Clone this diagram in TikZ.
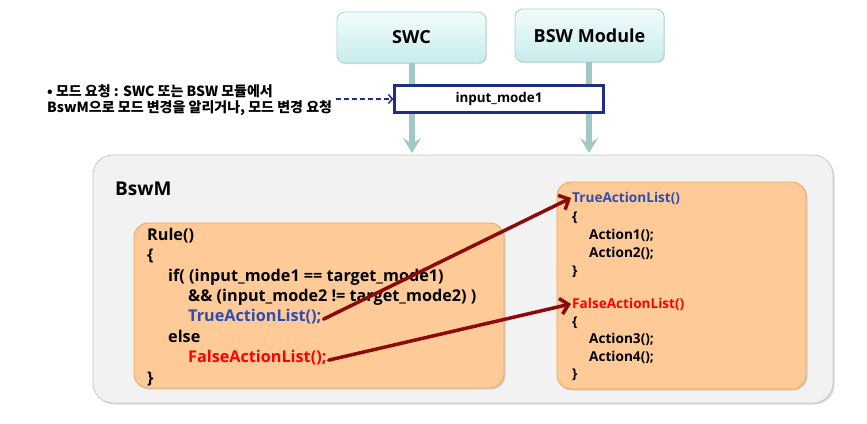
\documentclass[tikz,border=0pt]{standalone}
\usepackage{fontspec}
\setmainfont{Open Sans}
\newfontfamily\krfont{Noto Sans CJK KR}
\usetikzlibrary{arrows.meta,shadows}
\definecolor{outerfill}{HTML}{F2F2F2}
\definecolor{outerdraw}{HTML}{C8C8C8}
\definecolor{peach}{HTML}{FECB98}
\definecolor{peachdraw}{HTML}{F7A24E}
\definecolor{cyantop}{HTML}{F2FCFC}
\definecolor{cyanbot}{HTML}{C8ECEC}
\definecolor{cyandraw}{HTML}{A9D2D2}
\definecolor{flowarrow}{HTML}{A3C7C7}
\definecolor{navy}{HTML}{1F2F85}
\definecolor{codeblue}{HTML}{2E4BAF}
\definecolor{codered}{HTML}{FF0000}
\definecolor{darkarrow}{HTML}{8C0A0A}
\tikzset{
  compbox/.style={draw=cyandraw, line width=0.8pt, rounded corners=8pt, top color=cyantop, bottom color=cyanbot,
    drop shadow={shadow xshift=1.2pt, shadow yshift=-1.2pt, opacity=0.25},
    font=\bfseries\fontsize{18}{21}\selectfont, inner sep=0pt},
  panel/.style={draw=outerdraw, line width=0.8pt, fill=outerfill, rounded corners=20pt,
    drop shadow={shadow xshift=1.5pt, shadow yshift=-1.5pt, opacity=0.3}},
  codebox/.style={draw=peachdraw, line width=0.8pt, fill=peach, rounded corners=14pt,
    drop shadow={shadow xshift=1.5pt, shadow yshift=-1.5pt, opacity=0.3}},
  bigcode/.style={anchor=base west, inner sep=0pt, font=\bfseries\fontsize{16.2}{19}\selectfont},
  smallcode/.style={anchor=base west, inner sep=0pt, font=\bfseries\fontsize{13.6}{16}\selectfont},
  flow/.style={draw=flowarrow, line width=6pt, -{Stealth[length=15pt,width=18pt,inset=6pt]}},
  jump/.style={draw=darkarrow, line width=3.5pt, line cap=round, -{Straight Barb[length=8pt,width=16pt]}},
  note/.style={anchor=base west, inner sep=0pt, font=\krfont\bfseries\fontsize{14}{16}\selectfont},
}
\begin{document}
\begin{tikzpicture}[x=1pt,y=-1pt]
\useasboundingbox (0,0) rectangle (867,423);
\fill[white] (0,0) rectangle (867,423);
% top components
\node[compbox, minimum width=149pt, minimum height=51pt] (swc) at (411.5,37.5) {SWC};
\node[compbox, minimum width=149pt, minimum height=53pt] (bsw) at (589.5,35.5) {BSW Module};
\coordinate (swcend) at (412,153);
\coordinate (bswend) at (589,153);
\draw[flow] (swc.south -| swcend) -- (swcend);
\draw[flow] (bsw.south -| bswend) -- (bswend);
% input mode box
\node[draw=navy, line width=2.2pt, fill=white, minimum width=209pt, minimum height=27pt, inner sep=0pt,
      font=\bfseries\fontsize{13.4}{15}\selectfont] (inbox) at (499,99) {input\_mode1};
% note
\node[note] (note1) at (47,96) {• 모드 요청 : SWC 또는 BSW 모듈에서};
\node[note] (note2) at (47,112) {BswM으로 모드 변경을 알리거나, 모드 변경 요청};
\coordinate (dstart) at (336,99);
\draw[navy, line width=1.5pt, dash pattern=on 5pt off 3pt, -{Straight Barb[length=4pt,width=9pt]}] (dstart) -- (inbox.west);
% BswM panel
\draw[panel] (93,155) rectangle (833,403);
\node[anchor=base west, inner sep=0pt, font=\bfseries\fontsize{19}{22}\selectfont] (bswm) at (115,195) {BswM};
% rule box
\draw[codebox] (134,223) rectangle (504,388);
\node[bigcode] (r1) at (147,240) {Rule()};
\node[bigcode] (r2) at (147,260) {\{};
\node[bigcode] (r3) at (168,281) {if( (input\_mode1 == target\_mode1)};
\node[bigcode] (r4) at (188,301) {\&\& (input\_mode2 != target\_mode2) )};
\node[bigcode, text=codeblue] (rtrue) at (188,321) {TrueActionList();};
\node[bigcode] (r6) at (168,342) {else};
\node[bigcode, text=codered] (rfalse) at (188,362) {FalseActionList();};
\node[bigcode] (r8) at (147,383) {\}};
% action box
\draw[codebox] (557,182) rectangle (806,389);
\node[smallcode, text=codeblue] (ltrue) at (572,202) {TrueActionList()};
\node[smallcode] (a2) at (572,221) {\{};
\node[smallcode] (a3) at (589,239) {Action1();};
\node[smallcode] (a4) at (589,257) {Action2();};
\node[smallcode] (a5) at (572,275) {\}};
\node[smallcode, text=codered] (lfalse) at (572,308) {FalseActionList()};
\node[smallcode] (a7) at (572,326) {\{};
\node[smallcode] (a8) at (589,343) {Action3();};
\node[smallcode] (a9) at (589,361) {Action4();};
\node[smallcode] (a10) at (572,378) {\}};
% jumps
\draw[jump] ([xshift=2pt,yshift=-3pt]rtrue.east) -- ([xshift=-1pt]ltrue.west);
\draw[jump] ([xshift=2pt,yshift=-3pt]rfalse.east) -- ([xshift=-1pt]lfalse.west);
\end{tikzpicture}
\end{document}
